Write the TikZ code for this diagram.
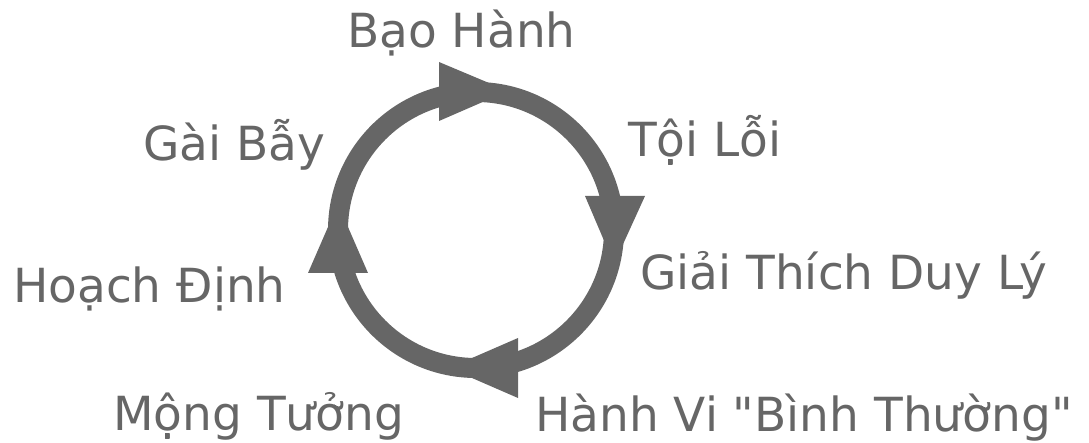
\documentclass[tikz,border=0pt]{standalone}
\usepackage{fontspec}
\setmainfont[Ligatures=TeXOff]{DejaVu Sans}
\definecolor{cyclegray}{HTML}{666666}
\tikzset{
  ring/.style={draw=cyclegray, line width=20pt},
  head/.style={fill=cyclegray, draw=none},
  lbl/.style={anchor=base west, inner sep=0pt, text=cyclegray, font=\fontsize{47}{56}\selectfont}
}
\begin{document}
\begin{tikzpicture}[x=1pt, y=-1pt]
  \useasboundingbox (0,0) rectangle (1089,443);
  % the cycle
  \coordinate (c) at (476,230);
  \draw[ring] (c) circle (138);
  % clockwise arrow heads
  \fill[head] (439,62) -- (439,121) -- (508,91) -- cycle;
  \fill[head] (585,196) -- (645,196) -- (614,264) -- cycle;
  \fill[head] (518,338) -- (518,398) -- (449,368) -- cycle;
  \fill[head] (308,273) -- (368,273) -- (338,204) -- cycle;
  % stages
  \node[lbl] (bh) at (347,48) {Bạo Hành};
  \node[lbl] (tl) at (628,157) {Tội Lỗi};
  \node[lbl] (gt) at (640,290) {Giải Thích Duy Lý};
  \node[lbl] (hv) at (535,431) {Hành Vi "Bình Thường"};
  \node[lbl] (mt) at (113,430) {Mộng Tưởng};
  \node[lbl] (hd) at (13,303) {Hoạch Định};
  \node[lbl] (gb) at (143,161) {Gài Bẫy};
\end{tikzpicture}
\end{document}
